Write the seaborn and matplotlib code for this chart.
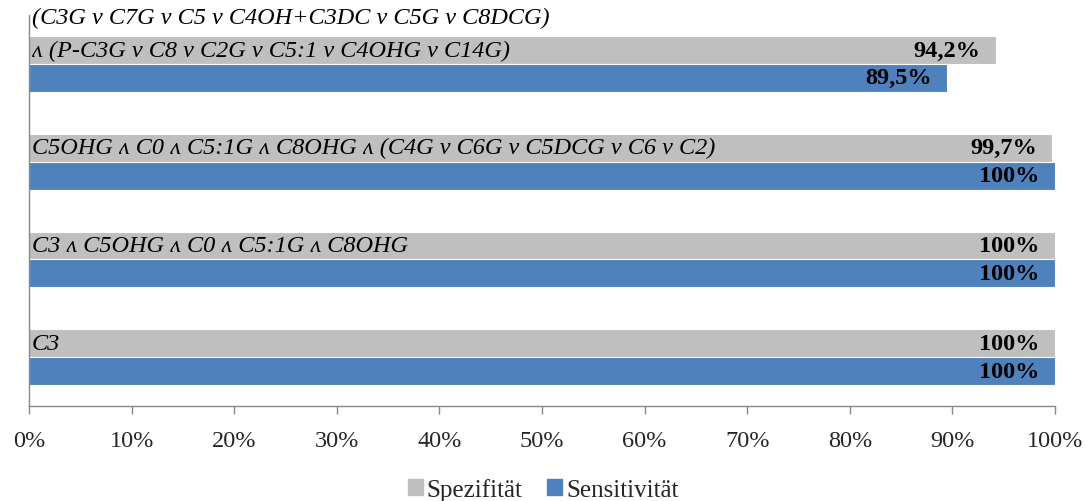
import matplotlib
matplotlib.use("Agg")
import matplotlib.pyplot as plt
import seaborn as sns
import pandas as pd

# Marker combinations (top to bottom) and their test performance
kombinationen = [
    "(C3G v C7G v C5 v C4OH+C3DC v C5G v C8DCG)\nʌ (P-C3G v C8 v C2G v C5:1 v C4OHG v C14G)",
    "C5OHG ʌ C0 ʌ C5:1G ʌ C8OHG ʌ (C4G v C6G v C5DCG v C6 v C2)",
    "C3 ʌ C5OHG ʌ C0 ʌ C5:1G ʌ C8OHG",
    "C3",
]
spezifitaet = [94.2, 99.7, 100.0, 100.0]
sensitivitaet = [89.5, 100.0, 100.0, 100.0]
serien = ["Spezifität", "Sensitivität"]
x_ticks = [0, 10, 20, 30, 40, 50, 60, 70, 80, 90, 100]

df = pd.DataFrame({
    "Kombination": kombinationen * 2,
    "Wert": spezifitaet + sensitivitaet,
    "Serie": [serien[0]] * len(kombinationen) + [serien[1]] * len(kombinationen),
})

sns.set_theme(style="white")
plt.rcParams["font.family"] = ["Liberation Serif", "DejaVu Serif"]

FS = 17.5

fig = plt.figure(figsize=(10.86, 5.02), dpi=100)
ax = fig.add_axes([0.0267, 0.1892, 0.9448, 0.7788])

farben = {"Spezifität": "#BFBFBF", "Sensitivität": "#4F81BD"}
bar_width = 0.57
sns.barplot(data=df, y="Kombination", x="Wert", hue="Serie", order=kombinationen,
            hue_order=serien, palette=farben, orient="h", width=bar_width,
            saturation=1, gap=0, ax=ax, legend=False, linewidth=0.8,
            edgecolor="white")

ax.set_xlim(0, 100)
ax.set_ylim(len(kombinationen) - 0.5, -0.5)
ax.set_xticks(x_ticks)
ax.set_xticklabels([f"{t}%" for t in x_ticks], fontsize=FS)
ax.set_yticks([])
ax.set_xlabel("")
ax.set_ylabel("")
ax.tick_params(axis="x", direction="out", length=6, width=1, color="#888888",
               pad=11, bottom=True)
for side in ("top", "right"):
    ax.spines[side].set_visible(False)
for side in ("left", "bottom"):
    ax.spines[side].set_color("#888888")
    ax.spines[side].set_linewidth(1)

# Combination labels inside the upper (Spezifität) bar of each group
zeilenabstand = 0.33
for i, text in enumerate(kombinationen):
    zeilen = text.split("\n")
    y_mitte = i - bar_width / 4
    for k, zeile in enumerate(zeilen):
        ax.text(0.3, y_mitte - (len(zeilen) - 1 - k) * zeilenabstand, zeile,
                fontsize=FS, fontstyle="italic", ha="left", va="center",
                color="black")

# Value labels at the right end of each bar
def fmt(v):
    return f"{v:.0f}%" if v == int(v) else f"{v:.1f}%".replace(".", ",")

for container in ax.containers:
    for patch in container:
        w = patch.get_width()
        y = patch.get_y() + patch.get_height() / 2
        ax.annotate(fmt(w), xy=(w, y), xytext=(-11, 0), textcoords="offset points",
                    ha="right", va="center", fontsize=FS, fontweight="bold",
                    color="black")

handles = [plt.Rectangle((0, 0), 1, 1, color=farben[s]) for s in serien]
fig.legend(handles, serien, loc="lower center", bbox_to_anchor=(0.5, 0.0), ncol=2,
           frameon=False, fontsize=18, handlelength=0.6, handleheight=0.6,
           handletextpad=0.15, columnspacing=1.0, borderpad=0.0,
           borderaxespad=0.0)

fig.savefig("out.png", dpi=100)
